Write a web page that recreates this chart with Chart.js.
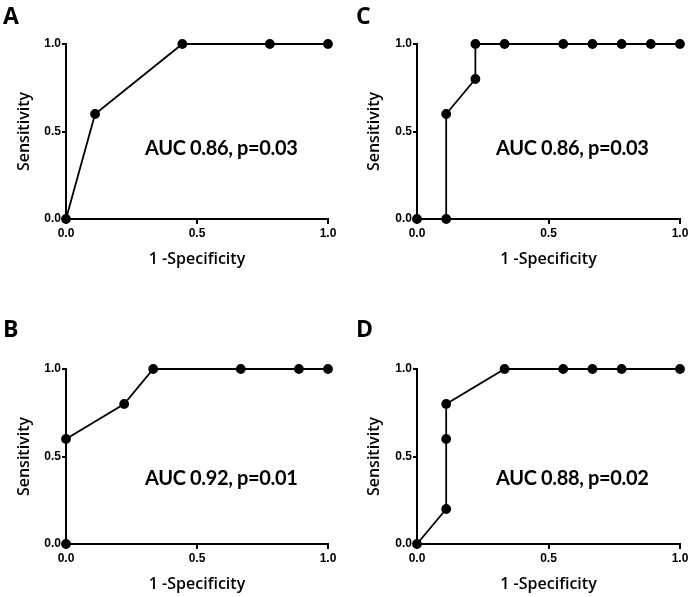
<!DOCTYPE html>
<html>
<head>
<meta charset="utf-8">
<script src="https://cdn.jsdelivr.net/npm/chart.js@4"></script>
<style>
  html, body { margin: 0; padding: 0; background: #fff; overflow: hidden; }
  #wrap { position: relative; width: 692px; height: 597px; overflow: hidden; }
  .panel { position: absolute; width: 346px; }
  .letter { position: absolute; font: bold 23px "Open Sans", sans-serif; color: #000; line-height: 1; }
  .auc { position: absolute; font: bold 20px Lato, sans-serif; letter-spacing: -0.35px; color: #000; white-space: nowrap; line-height: 1; }
</style>
</head>
<body>
<div id="wrap">
  <div class="panel" style="left:0;top:0;height:300px"><canvas id="chartA"></canvas></div>
  <div class="panel" style="left:346px;top:0;height:300px;width:366px"><canvas id="chartC"></canvas></div>
  <div class="panel" style="left:0;top:313px;height:284px"><canvas id="chartB"></canvas></div>
  <div class="panel" style="left:346px;top:313px;height:284px;width:366px"><canvas id="chartD"></canvas></div>
  <div class="letter" style="left:3px;top:4px">A</div>
  <div class="letter" style="left:356px;top:4px">C</div>
  <div class="letter" style="left:3px;top:317px">B</div>
  <div class="letter" style="left:356px;top:317px">D</div>
  <div class="auc" style="left:145px;top:137px">AUC 0.86, p=0.03</div>
  <div class="auc" style="left:496px;top:137px">AUC 0.86, p=0.03</div>
  <div class="auc" style="left:145px;top:467px">AUC 0.92, p=0.01</div>
  <div class="auc" style="left:496px;top:467px">AUC 0.88, p=0.02</div>
</div>
<script>
// 1 - specificity / sensitivity for each panel
const aX = [0, 0.111, 0.444, 0.778, 1];
const aY = [0, 0.6, 1, 1, 1];
const bX = [0, 0, 0.222, 0.333, 0.667, 0.889, 1];
const bY = [0, 0.6, 0.8, 1, 1, 1, 1];
const cX = [0, 0.111, 0.111, 0.222, 0.222, 0.333, 0.556, 0.667, 0.778, 0.889, 1];
const cY = [0, 0, 0.6, 0.8, 1, 1, 1, 1, 1, 1, 1];
const dX = [0, 0.111, 0.111, 0.111, 0.333, 0.556, 0.667, 0.778, 1];
const dY = [0, 0.2, 0.6, 0.8, 1, 1, 1, 1, 1];
const tickValues = [0, 0.5, 1];
const xTitle = '1 -Specificity';
const yTitle = 'Sensitivity';

function makeChart(id, xs, ys, pad, yWidth, yTitlePad) {
    const ctx = document.getElementById(id).getContext('2d');
    return new Chart(ctx, {
        type: 'line',
        data: {
            datasets: [{
                data: xs.map((x, i) => ({ x: x, y: ys[i] })),
                borderColor: '#000',
                backgroundColor: '#000',
                borderWidth: 1.8,
                pointRadius: 4,
                pointHoverRadius: 4,
                tension: 0,
                clip: false
            }]
        },
        options: {
            responsive: true,
            maintainAspectRatio: false,
            animation: false,
            events: [],
            layout: { padding: pad },
            plugins: { legend: { display: false }, tooltip: { enabled: false } },
            scales: {
                x: {
                    type: 'linear',
                    min: 0, max: 1,
                    afterBuildTicks: s => { s.ticks = tickValues.map(v => ({ value: v })); },
                    afterFit: s => { s.height = 53; },
                    border: { color: '#000', width: 2 },
                    grid: { drawOnChartArea: false, drawTicks: true, tickLength: 5, color: '#000', lineWidth: 2 },
                    ticks: {
                        padding: 2,
                        color: '#000',
                        maxRotation: 0,
                        font: { family: 'Liberation Sans', size: 12, weight: 'bold' },
                        callback: v => v.toFixed(1)
                    },
                    title: {
                        display: true, text: xTitle, color: '#000',
                        padding: { top: 0, bottom: 3 },
                        font: { family: 'Open Sans', size: 16, weight: '600' }
                    }
                },
                y: {
                    type: 'linear',
                    min: 0, max: 1,
                    afterBuildTicks: s => { s.ticks = tickValues.map(v => ({ value: v })); },
                    afterFit: s => { s.width = yWidth; },
                    border: { color: '#000', width: 2 },
                    grid: { drawOnChartArea: false, drawTicks: true, tickLength: 4, color: '#000', lineWidth: 2 },
                    ticks: {
                        padding: 1,
                        color: '#000',
                        font: { family: 'Liberation Sans', size: 12, weight: 'bold' },
                        callback: v => v.toFixed(1)
                    },
                    title: {
                        display: true, text: yTitle, color: '#000',
                        padding: { top: yTitlePad, bottom: 0 },
                        font: { family: 'Open Sans', size: 16, weight: '600' }
                    }
                }
            }
        }
    });
}

makeChart('chartA', aX, aY, { top: 44, bottom: 28, left: 0, right: 18 }, 66, 15);
makeChart('chartC', cX, cY, { top: 44, bottom: 28, left: 0, right: 32 }, 71, 19);
makeChart('chartB', bX, bY, { top: 56, bottom: 0, left: 0, right: 18 }, 66, 15);
makeChart('chartD', dX, dY, { top: 56, bottom: 0, left: 0, right: 32 }, 71, 19);
</script>
</body>
</html>
